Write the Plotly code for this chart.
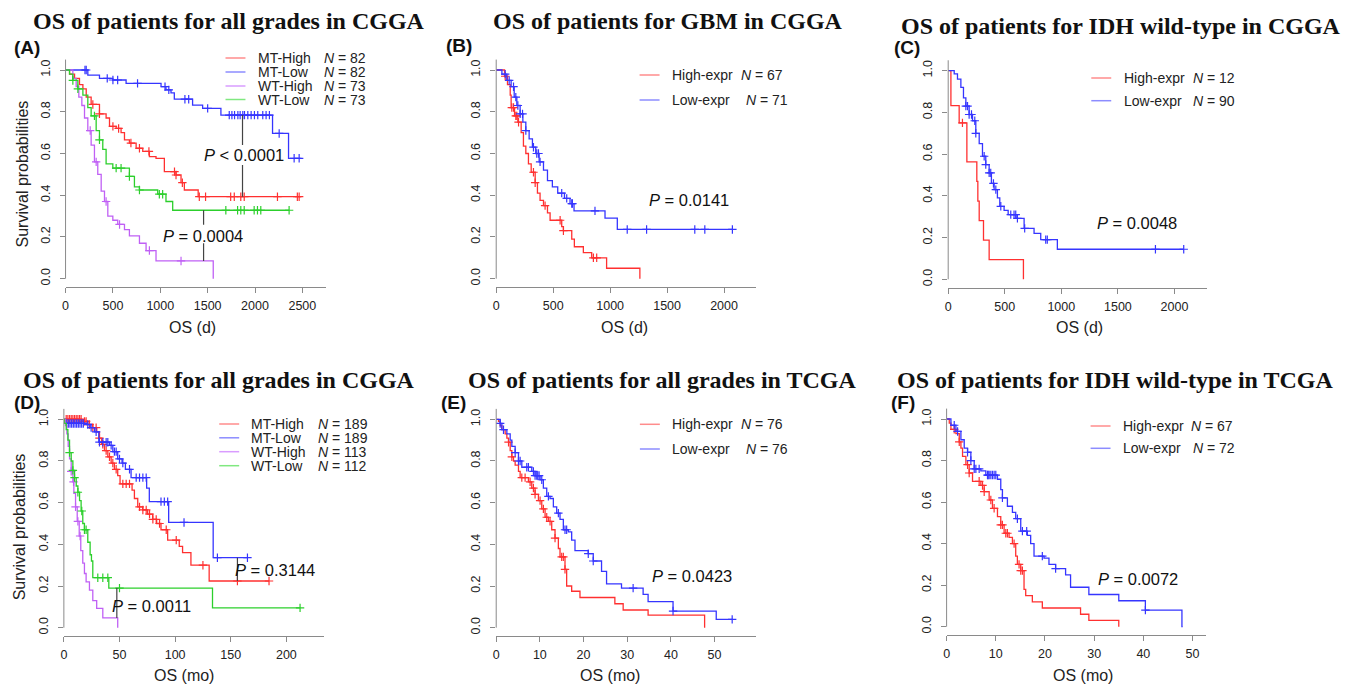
import numpy as np
import plotly.graph_objects as go

W, H = 1354, 687

# ---------------- DATA ----------------
# Panel A: OS of patients for all grades in CGGA (days)
A_mth_t = [42, 95, 147, 183, 218, 270, 358, 428, 464, 534, 586, 622, 674, 745, 815, 885, 955, 1043, 1166, 1219, 1254, 1400]
A_mth_s = [0.98, 0.96, 0.93, 0.91, 0.87, 0.835, 0.79, 0.77, 0.73, 0.72, 0.70, 0.665, 0.65, 0.625, 0.61, 0.585, 0.577, 0.513, 0.497, 0.46, 0.425, 0.393]
A_mth_c = [288, 358, 500, 560, 690, 780, 880, 1150, 1166, 1233, 1412, 1478, 1743, 1781, 1850, 1886, 2237, 2447, 2466]
A_mth_end = 2483
A_mtl_t = [235, 358, 499, 639, 1008, 1060, 1113, 1148, 1341, 1447, 1640, 2185, 2354]
A_mtl_s = [0.975, 0.96, 0.952, 0.936, 0.92, 0.905, 0.89, 0.86, 0.832, 0.816, 0.784, 0.696, 0.577]
A_mtl_c = [205, 218, 440, 500, 550, 760, 1050, 1090, 1260, 1300, 1500, 1728, 1756, 1784, 1819, 1843, 1871, 1889,
           1924, 1959, 1994, 2029, 2082, 2117, 2152, 2255, 2413, 2466]
A_mtl_end = 2490
A_wth_t = [77, 112, 140, 172, 200, 235, 270, 305, 340, 376, 411, 446, 499, 551, 622, 674, 780, 850, 955, 1559]
A_wth_s = [0.96, 0.92, 0.87, 0.83, 0.77, 0.71, 0.64, 0.56, 0.50, 0.42, 0.37, 0.30, 0.28, 0.26, 0.235, 0.205, 0.17, 0.135, 0.085, 0.0]
A_wth_c = [260, 323, 428, 570, 885, 1219]
A_wth_end = 1559
A_wtl_t = [42, 77, 130, 183, 235, 270, 323, 358, 393, 428, 499, 674, 727, 780, 973, 1060, 1131]
A_wtl_s = [0.98, 0.95, 0.91, 0.88, 0.82, 0.78, 0.71, 0.665, 0.62, 0.55, 0.53, 0.49, 0.44, 0.425, 0.405, 0.37, 0.328]
A_wtl_c = [77, 130, 305, 358, 534, 586, 674, 780, 990, 1025, 1692, 1816, 1850, 1886, 1991, 2026, 2061, 2360]
A_wtl_end = 2360

# Panel B: OS of patients for GBM in CGGA (days)
B_hi_t = [73, 99, 123, 131, 161, 190, 219, 239, 260, 283, 307, 342, 362, 385, 415, 450, 473, 575, 590, 663, 686, 765, 838, 969, 1261]
B_hi_s = [0.97, 0.93, 0.88, 0.82, 0.78, 0.75, 0.70, 0.635, 0.60, 0.55, 0.51, 0.46, 0.41, 0.375, 0.35, 0.315, 0.28, 0.25, 0.23, 0.19, 0.153, 0.125, 0.10, 0.05, 0.0]
B_hi_c = [79, 137, 152, 172, 181, 196, 327, 342, 429, 561, 590, 853, 882]
B_hi_end = 1261
B_lo_t = [50, 93, 131, 158, 181, 210, 234, 260, 289, 318, 347, 377, 415, 450, 493, 540, 599, 648, 683, 955, 1063]
B_lo_s = [0.98, 0.95, 0.92, 0.87, 0.83, 0.79, 0.75, 0.71, 0.67, 0.63, 0.60, 0.56, 0.52, 0.47, 0.44, 0.41, 0.385, 0.36, 0.325, 0.29, 0.236]
B_lo_c = [79, 114, 152, 172, 190, 210, 231, 260, 327, 356, 371, 385, 575, 619, 663, 669, 867, 1150, 1320, 1743, 1831, 2073]
B_lo_end = 2079

# Panel C: OS of patients for IDH wild-type in CGGA (days)
C_hi_t = [24, 97, 165, 253, 262, 274, 312, 362, 665]
C_hi_s = [0.833, 0.75, 0.5625, 0.469, 0.375, 0.281, 0.1875, 0.094, 0.0]
C_hi_c = [126]
C_hi_end = 665
C_lo_t = [53, 82, 112, 135, 156, 185, 215, 244, 274, 303, 332, 362, 382, 406, 435, 456, 494, 530, 600, 671, 759, 818, 965]
C_lo_s = [0.985, 0.96, 0.92, 0.87, 0.83, 0.79, 0.76, 0.70, 0.65, 0.59, 0.55, 0.51, 0.46, 0.43, 0.39, 0.35, 0.33, 0.31, 0.292, 0.244, 0.22, 0.19, 0.144]
C_lo_c = [156, 171, 185, 206, 235, 244, 318, 332, 362, 376, 400, 421, 465, 553, 582, 597, 612, 676, 862, 876, 1832, 2082]
C_lo_end = 2082

# Panel D: OS of patients for all grades in CGGA (months)
D_mth_t = [17, 21.5, 26, 29.6, 32, 34, 36.5, 39.5, 42.5, 45.4, 48.4, 50.5, 61.3, 63.4, 66.4, 70.9, 75.3, 79.8, 83.4, 87.3, 93.3, 103.7, 106.7, 114.2, 130.6]
D_mth_s = [0.99, 0.975, 0.96, 0.94, 0.91, 0.88, 0.85, 0.82, 0.79, 0.76, 0.73, 0.69, 0.66, 0.62, 0.58, 0.565, 0.545, 0.52, 0.50, 0.47, 0.42, 0.39, 0.36, 0.30, 0.224]
D_mth_c = [2.1, 3.6, 5.1, 6.6, 8.1, 9.6, 11.1, 12.6, 14.1, 15.5, 18.5, 20, 23, 26, 29, 32, 35, 38, 41, 44, 47,
           53, 56, 59, 68, 71, 74, 77, 80, 83, 86, 92, 101, 125, 156, 184.4]
D_mth_end = 184.4
D_mtl_t = [1.5, 20, 23.6, 27.5, 31.4, 41, 44, 48.4, 52.3, 55.3, 60.4, 74.4, 76.8, 94.2, 134.2]
D_mtl_s = [0.98, 0.975, 0.96, 0.94, 0.89, 0.875, 0.845, 0.81, 0.79, 0.76, 0.72, 0.67, 0.605, 0.505, 0.336]
D_mtl_c = [2.5, 4, 5.5, 7, 8.5, 10, 11.5, 13, 14.5, 16, 17.5, 21.5, 24.5, 29, 32, 35, 38, 39.5, 42.5, 45.4, 47,
           50, 53, 59, 65, 68, 71, 74, 87.3, 90.3, 93.3, 108, 138, 165]
D_mtl_end = 165
D_wth_t = [1.5, 2.7, 3.9, 5.1, 6.6, 8.1, 9.0, 10.5, 12.0, 13.8, 15.2, 17.0, 18.5, 20.0, 23.0, 26.0, 29.5, 35.0, 48.4]
D_wth_s = [0.97, 0.93, 0.87, 0.81, 0.75, 0.70, 0.645, 0.58, 0.51, 0.44, 0.37, 0.31, 0.26, 0.22, 0.18, 0.13, 0.093, 0.047, 0.0]
D_wth_c = [6.6, 8.7, 10.5, 12.6, 14.6]
D_wth_end = 48.4
D_wtl_t = [0.6, 2.1, 3.6, 5.1, 6.6, 8.1, 9.6, 11.1, 12.6, 14.1, 15.5, 17, 18.5, 21.5, 23.6, 24.8, 26, 40.4, 133.6]
D_wtl_s = [0.98, 0.95, 0.90, 0.84, 0.80, 0.755, 0.72, 0.68, 0.65, 0.61, 0.56, 0.50, 0.47, 0.41, 0.35, 0.32, 0.24, 0.19, 0.095]
D_wtl_c = [5.1, 8.1, 9.6, 12.6, 16.1, 18.5, 20, 30.5, 35, 39.5, 50, 212.3]
D_wtl_end = 212.3

# Panel E: OS of patients for all grades in TCGA (months)
E_hi_t = [0.53, 0.91, 1.29, 2.05, 2.44, 2.82, 3.2, 3.58, 3.96, 4.34, 5.1, 5.48, 7.38, 8.14, 8.9, 9.67, 10.43, 11.19, 11.95,
          12.71, 13.47, 14.23, 14.61, 15.75, 16.13, 17.28, 19.18, 27.17, 29.07, 34.78, 47.72]
E_hi_s = [0.99, 0.97, 0.95, 0.93, 0.91, 0.89, 0.85, 0.82, 0.80, 0.78, 0.75, 0.72, 0.70, 0.67, 0.64, 0.61, 0.57, 0.53, 0.51,
          0.47, 0.43, 0.38, 0.34, 0.28, 0.20, 0.175, 0.145, 0.115, 0.085, 0.06, 0.0]
E_hi_c = [2.82, 3.58, 5.86, 6.62, 7.76, 8.52, 8.9, 10.05, 10.8, 11.57, 12.33, 13.47, 14.99, 15.37, 15.75]
E_hi_end = 47.72
E_lo_t = [0.91, 1.29, 2.44, 3.2, 3.58, 4.34, 5.1, 5.86, 8.14, 8.9, 10.05, 10.8, 11.57, 12.33, 13.09, 13.85, 14.61, 15.37,
          16.51, 17.28, 18.04, 21.08, 22.22, 24.12, 25.27, 28.69, 33.64, 34.78, 40.49, 50.38]
E_lo_s = [0.98, 0.95, 0.93, 0.90, 0.87, 0.84, 0.80, 0.77, 0.75, 0.73, 0.71, 0.67, 0.63, 0.62, 0.58, 0.55, 0.52, 0.47,
          0.46, 0.42, 0.37, 0.355, 0.32, 0.27, 0.21, 0.19, 0.16, 0.125, 0.08, 0.04]
E_lo_c = [0.91, 1.67, 4.34, 5.1, 5.48, 7.0, 7.38, 8.52, 8.9, 9.28, 9.51, 9.82, 10.43, 11.95, 14.23, 15.75, 16.13, 21.08,
          22.22, 31.35, 40.49, 54.03]
E_lo_end = 54.2

# Panel F: OS of patients for IDH wild-type in TCGA (months)
F_hi_t = [0.54, 0.88, 1.89, 2.57, 2.91, 3.24, 3.92, 4.59, 5.27, 6.96, 7.64, 8.65, 9.32, 10.34, 11.01, 11.69, 12.7, 13.38,
          14.05, 14.39, 15.07, 15.74, 16.08, 17.43, 19.46, 27.23, 28.92, 35.0]
F_hi_s = [0.98, 0.95, 0.93, 0.89, 0.86, 0.82, 0.78, 0.74, 0.70, 0.68, 0.65, 0.61, 0.57, 0.53, 0.49, 0.45, 0.43, 0.40,
          0.34, 0.30, 0.27, 0.18, 0.15, 0.12, 0.09, 0.06, 0.03, 0.0]
F_hi_c = [1.55, 2.57, 4.26, 4.59, 6.62, 7.3, 7.64, 8.99, 9.66, 11.01, 11.35, 12.03, 12.36, 13.72, 14.73, 15.07, 15.41]
F_hi_end = 35.0
F_lo_t = [0.88, 1.89, 2.91, 3.58, 4.26, 4.93, 5.61, 6.96, 7.97, 10.34, 11.01, 11.35, 12.36, 13.38, 14.05, 15.07, 16.42,
          17.09, 17.77, 19.8, 20.81, 22.16, 24.19, 25.2, 28.92, 35.0, 40.41, 47.84]
F_lo_s = [0.97, 0.94, 0.90, 0.86, 0.84, 0.80, 0.76, 0.75, 0.73, 0.71, 0.66, 0.62, 0.58, 0.55, 0.52, 0.46, 0.44,
          0.40, 0.34, 0.33, 0.30, 0.28, 0.25, 0.19, 0.155, 0.125, 0.08, 0.0]
F_lo_c = [1.55, 2.23, 4.26, 4.93, 5.61, 5.95, 6.62, 8.31, 8.45, 8.65, 8.99, 9.32, 9.66, 10.0, 11.35, 14.39, 15.41, 16.28,
          19.46, 22.16, 40.41]
F_lo_end = 48.0

titles = ["OS of patients for all grades in CGGA", "OS of patients for GBM in CGGA",
          "OS of patients for IDH wild-type in CGGA", "OS of patients for all grades in CGGA",
          "OS of patients for all grades in TCGA", "OS of patients for IDH wild-type in TCGA"]
panel_labels = ["(A)", "(B)", "(C)", "(D)", "(E)", "(F)"]
x_titles = ["OS (d)", "OS (d)", "OS (d)", "OS (mo)", "OS (mo)", "OS (mo)"]
x_ticks = [[0, 500, 1000, 1500, 2000, 2500], [0, 500, 1000, 1500, 2000], [0, 500, 1000, 1500, 2000],
           [0, 50, 100, 150, 200], [0, 10, 20, 30, 40, 50], [0, 10, 20, 30, 40, 50]]
y_ticks = [0.0, 0.2, 0.4, 0.6, 0.8, 1.0]
y_ticklabels = ["0.0", "0.2", "0.4", "0.6", "0.8", "1.0"]

four_names = ["MT-High", "MT-Low", "WT-High", "WT-Low"]
A_counts = [82, 82, 73, 73]
D_counts = [189, 189, 113, 112]
two_names = ["High-expr", "Low-expr"]
B_counts = [67, 71]
C_counts = [12, 90]
E_counts = [76, 76]
F_counts = [67, 72]
p_texts = [["<i>P</i> &lt; 0.0001", "<i>P</i> = 0.0004"], ["<i>P</i> = 0.0141"], ["<i>P</i> = 0.0048"],
           ["<i>P</i> = 0.3144", "<i>P</i> = 0.0011"], ["<i>P</i> = 0.0423"], ["<i>P</i> = 0.0072"]]

# ---------------- STYLE / LAYOUT ----------------
RED, BLUE, PURPLE, GREEN = "#ff3030", "#3535ff", "#c060f5", "#2ccf2c"
LRED, LBLUE, LPURPLE, LGREEN = "#ff8c8c", "#8c8cff", "#d99cff", "#80e880"
four_cols = [RED, BLUE, PURPLE, GREEN]
four_lcols = [LRED, LBLUE, LPURPLE, LGREEN]
two_cols = [RED, BLUE]
two_lcols = [LRED, LBLUE]

panels = [
    dict(curves=[(A_mth_t, A_mth_s, A_mth_c, A_mth_end), (A_mtl_t, A_mtl_s, A_mtl_c, A_mtl_end),
                 (A_wth_t, A_wth_s, A_wth_c, A_wth_end), (A_wtl_t, A_wtl_s, A_wtl_c, A_wtl_end)],
         names=four_names, counts=A_counts, cols=four_cols, lcols=four_lcols),
    dict(curves=[(B_hi_t, B_hi_s, B_hi_c, B_hi_end), (B_lo_t, B_lo_s, B_lo_c, B_lo_end)],
         names=two_names, counts=B_counts, cols=two_cols, lcols=two_lcols),
    dict(curves=[(C_hi_t, C_hi_s, C_hi_c, C_hi_end), (C_lo_t, C_lo_s, C_lo_c, C_lo_end)],
         names=two_names, counts=C_counts, cols=two_cols, lcols=two_lcols),
    dict(curves=[(D_mth_t, D_mth_s, D_mth_c, D_mth_end), (D_mtl_t, D_mtl_s, D_mtl_c, D_mtl_end),
                 (D_wth_t, D_wth_s, D_wth_c, D_wth_end), (D_wtl_t, D_wtl_s, D_wtl_c, D_wtl_end)],
         names=four_names, counts=D_counts, cols=four_cols, lcols=four_lcols),
    dict(curves=[(E_hi_t, E_hi_s, E_hi_c, E_hi_end), (E_lo_t, E_lo_s, E_lo_c, E_lo_end)],
         names=two_names, counts=E_counts, cols=two_cols, lcols=two_lcols),
    dict(curves=[(F_hi_t, F_hi_s, F_hi_c, F_hi_end), (F_lo_t, F_lo_s, F_lo_c, F_lo_end)],
         names=two_names, counts=F_counts, cols=two_cols, lcols=two_lcols),
]

# pixel geometry: x0 px (data 0), x end px, x end in data, y px of 1.0, y px of 0.0
geom = [
    (62.7, 323.3, 2745, 70.0, 278.7),
    (494.3, 754.3, 2277, 70.0, 278.7),
    (947.3, 1206.7, 2288, 70.7, 279.3),
    (61.0, 321.7, 233.8, 419.3, 627.7),
    (494.3, 754.3, 59.4, 419.3, 627.7),
    (945.7, 1206.0, 52.8, 419.0, 626.7),
]
YLO, YHI = -0.04, 1.05

title_pos = [(226.7, 21), (666.7, 21), (1120.8, 26), (216.7, 380), (660, 380), (1114, 380)]
label_pos = [(24, 47), (457, 46), (906, 48), (24, 402), (452, 402), (902, 402)]
xtitle_pos = [(190, 328), (622.5, 328), (1079, 328), (181.7, 675), (608.3, 675), (1082.5, 675)]
ytitle_pos = [(20, 173.5), (16.7, 526.7)]
leg_line_x = [(223, 243), (638, 658), (1090.7, 1110.7), (216.7, 236.7), (638.3, 658.3), (1090, 1110)]
leg_rows_y = [[58, 72, 86, 99.5], [75, 100], [78, 100.7], [424, 437.8, 451.7, 465.7], [424.3, 449], [426, 448.3]]
leg_text_x = [254, 668.3, 1121.7, 246.7, 668.3, 1120.7]
leg_n_x = [[320] * 4, [737.3, 742.7], [1190.7, 1190.7], [313.3] * 4, [737.3, 742.7], [1189, 1191]]
p_pos = [[(242, 155), (200, 236)], [(688, 200)], [(1136.7, 222.7)], [(272.5, 570), (149, 606)],
         [(690.8, 575.7)], [(1137.5, 579)]]
# connector segments (panel index, x, y_from, y_to) in data units
p_lines = [(0, 1868, 0.784, 0.641), (0, 1868, 0.545, 0.393), (0, 1457, 0.328, 0.258), (0, 1457, 0.17, 0.085),
           (3, 156, 0.336, 0.224), (3, 47.6, 0.19, 0.047)]


def px(x):
    return x / W


def py(y):
    return 1 - y / H


def surv_at(times, surv, t):
    idx = int(np.searchsorted(np.asarray(times, float), t, side="right"))
    return 1.0 if idx == 0 else surv[idx - 1]


fig = go.Figure()
annotations = []
shapes = []

for i, (pan, g) in enumerate(zip(panels, geom)):
    k = "" if i == 0 else str(i + 1)
    xa, ya = "x" + k, "y" + k
    x0, x1, xend, y1p, y0p = g
    span = y0p - y1p
    top = y1p - (YHI - 1.0) * span
    bot = y0p + (0 - YLO) * span
    for (t, s, c, end), col in zip(pan["curves"], pan["cols"]):
        xs = [0] + list(t) + [end]
        ys = [1.0] + list(s) + [s[-1]]
        fig.add_trace(go.Scatter(x=xs, y=ys, mode="lines", line=dict(color=col, width=1.3, shape="hv"),
                                 xaxis=xa, yaxis=ya, showlegend=False, hoverinfo="skip"))
        cy = [surv_at(t, s, ct) for ct in c]
        fig.add_trace(go.Scatter(x=c, y=cy, mode="markers",
                                 marker=dict(symbol="cross-thin", size=6, line=dict(color=col, width=1.2)),
                                 xaxis=xa, yaxis=ya, showlegend=False, hoverinfo="skip"))
    fig.layout["xaxis" + k] = dict(domain=[px(x0), px(x1)], range=[0, xend], anchor=ya,
                                   showline=True, linecolor="#8a8a8a", linewidth=1, mirror=False,
                                   ticks="outside", ticklen=5, tickcolor="#8a8a8a", tickwidth=1,
                                   tickvals=x_ticks[i], ticktext=[str(v) for v in x_ticks[i]],
                                   tickfont=dict(family="Liberation Sans", size=12.5, color="#222"),
                                   ticklabelstandoff=2,
                                   showgrid=False, zeroline=False, fixedrange=True)
    fig.layout["yaxis" + k] = dict(domain=[py(bot), py(top)], range=[YLO, YHI], anchor=xa,
                                   showline=False, ticks="outside", ticklen=5, tickcolor="#8a8a8a", tickwidth=1,
                                   tickvals=y_ticks, ticktext=y_ticklabels, tickangle=-90,
                                   tickfont=dict(family="Liberation Sans", size=12.5, color="#222"),
                                   ticklabelstandoff=5,
                                   showgrid=False, zeroline=False, fixedrange=True)
    # y axis line from 0 to top
    shapes.append(dict(type="line", xref="paper", yref="paper", x0=px(x0), x1=px(x0), y0=py(y0p), y1=py(top),
                       line=dict(color="#8a8a8a", width=1)))
    # titles & labels
    annotations.append(dict(text="<b>" + titles[i] + "</b>", x=px(title_pos[i][0]), y=py(title_pos[i][1]),
                            xref="paper", yref="paper", showarrow=False, xanchor="center", yanchor="middle",
                            font=dict(family="Liberation Serif", size=24, color="#111")))
    annotations.append(dict(text="<b>" + panel_labels[i] + "</b>", x=px(label_pos[i][0]), y=py(label_pos[i][1]),
                            xref="paper", yref="paper", showarrow=False, xanchor="center", yanchor="middle",
                            font=dict(family="Liberation Sans", size=19, color="#111")))
    annotations.append(dict(text=x_titles[i], x=px(xtitle_pos[i][0]), y=py(xtitle_pos[i][1]),
                            xref="paper", yref="paper", showarrow=False, xanchor="center", yanchor="middle",
                            font=dict(family="Liberation Sans", size=16, color="#222")))
    # legend
    lx0, lx1 = leg_line_x[i]
    for j, (nm, cnt, lc) in enumerate(zip(pan["names"], pan["counts"], pan["lcols"])):
        yy = leg_rows_y[i][j]
        shapes.append(dict(type="line", xref="paper", yref="paper", x0=px(lx0), x1=px(lx1), y0=py(yy), y1=py(yy),
                           line=dict(color=lc, width=1.5)))
        annotations.append(dict(text=nm, x=px(leg_text_x[i]), y=py(yy), xref="paper", yref="paper",
                                showarrow=False, xanchor="left", yanchor="middle",
                                font=dict(family="Liberation Sans", size=14, color="#222")))
        annotations.append(dict(text="<i>N</i> = %d" % cnt, x=px(leg_n_x[i][j]), y=py(yy), xref="paper",
                                yref="paper", showarrow=False, xanchor="left", yanchor="middle",
                                font=dict(family="Liberation Sans", size=14, color="#222")))
    # p values
    for txt, (ax_, ay_) in zip(p_texts[i], p_pos[i]):
        annotations.append(dict(text=txt, x=px(ax_), y=py(ay_), xref="paper", yref="paper", showarrow=False,
                                xanchor="center", yanchor="middle",
                                font=dict(family="Liberation Sans", size=16.5, color="#111")))

for (pi, lx, ya_, yb_) in p_lines:
    k = "" if pi == 0 else str(pi + 1)
    shapes.append(dict(type="line", xref="x" + k, yref="y" + k, x0=lx, x1=lx, y0=ya_, y1=yb_,
                       line=dict(color="#444", width=1.2)))

for (tx, ty) in ytitle_pos:
    annotations.append(dict(text="Survival probabilities", x=px(tx), y=py(ty), xref="paper", yref="paper",
                            showarrow=False, xanchor="center", yanchor="middle", textangle=-90,
                            font=dict(family="Liberation Sans", size=16, color="#222")))

fig.update_layout(width=W, height=H, margin=dict(l=0, r=0, t=0, b=0), paper_bgcolor="white",
                  plot_bgcolor="white", showlegend=False, annotations=annotations, shapes=shapes)

fig.write_html("out.html", config={"displayModeBar": False, "staticPlot": True},
               post_script="document.body.style.margin='0';document.body.style.padding='0';"
                           "document.body.style.overflow='hidden';")
